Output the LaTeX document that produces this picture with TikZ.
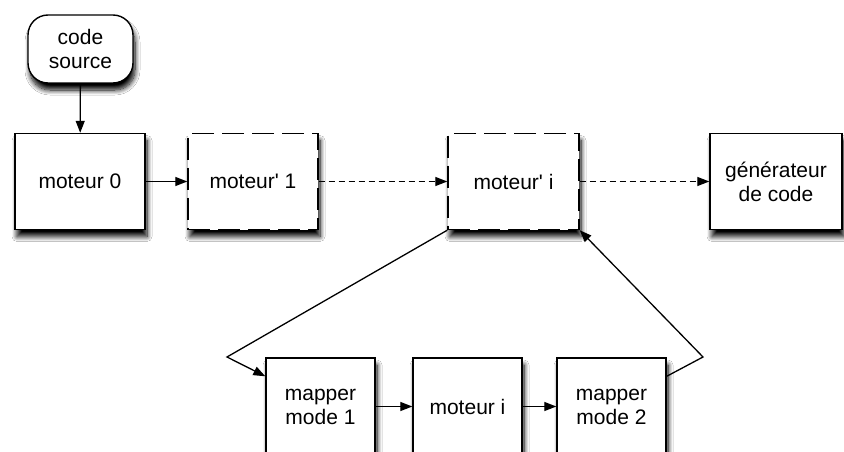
\documentclass[tikz,border=0pt]{standalone}
\usepackage{fontspec}
\setmainfont{Liberation Sans}
\usetikzlibrary{arrows.meta,shadows.blur,calc}
\tikzset{
  box/.style={draw=black, line width=1.4pt, fill=white, minimum width=130pt, minimum height=96pt,
    align=center, font=\fontsize{21}{24}\selectfont,
    blur shadow={shadow xshift=2pt, shadow yshift=-7pt, shadow blur radius=5pt, shadow blur steps=10, shadow opacity=100}},
  smallbox/.style={box, minimum width=109pt, minimum height=97pt},
  dashbox/.style={box, dash pattern=on 22pt off 8pt},
  startbox/.style={box, rounded corners=20pt, minimum width=105pt, minimum height=68pt},
  link/.style={line width=1.3pt, -{Triangle[length=12pt,width=9pt]}},
  dlink/.style={link, dash pattern=on 6pt off 4pt},
}
\begin{document}
\begin{tikzpicture}[x=1pt,y=-1pt]
  \fill[white] (0,0) rectangle (844,452);
  \useasboundingbox (0,0) rectangle (844,452);

  % top row
  \node[startbox] (code) at (80.5,49) {code\\source};
  \node[box] (m0) at (80,181.5) {moteur 0};
  \node[dashbox] (m1) at (253,181.5) {moteur\textquotesingle{} 1};
  \node[dashbox, minimum width=131pt] (mi) at (513.5,181.5) {moteur\textquotesingle{} i};
  \node[box, minimum width=132pt] (gen) at (776,181.5) {générateur\\de code};

  % bottom row
  \node[smallbox] (mm1) at (320.5,406.5) {mapper\\mode 1};
  \node[smallbox] (moti) at (467.5,406.5) {moteur i};
  \node[smallbox] (mm2) at (611.5,406.5) {mapper\\mode 2};

  % bend points of the loop
  \coordinate (lb) at (227,357);
  \coordinate (rb) at (703,357);
  \coordinate (mm1in) at ($(mm1.north west)+(0,19)$);
  \coordinate (mm2out) at ($(mm2.north east)+(0,19)$);

  \draw[link] (code) -- (m0);
  \draw[link] (m0) -- (m1);
  \draw[dlink] (m1) -- (mi);
  \draw[dlink] (mi) -- (gen);
  \draw[link] (mi.south west) -- (lb) -- (mm1in);
  \draw[link] (mm1) -- (moti);
  \draw[link] (moti) -- (mm2);
  \draw[link] (mm2out) -- (rb) -- (mi.south east);
\end{tikzpicture}
\end{document}
